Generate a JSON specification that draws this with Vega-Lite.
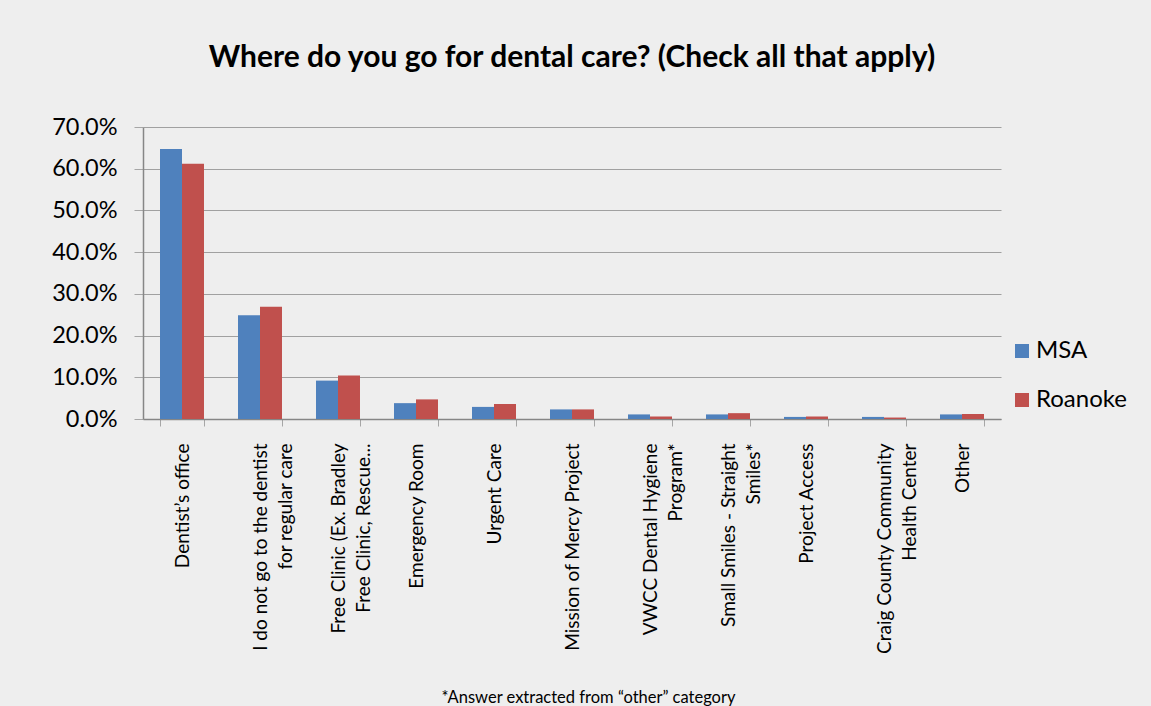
{
  "$schema": "https://vega.github.io/schema/vega-lite/v6.json",
  "width": 858,
  "height": 292,
  "autosize": {"type": "none"},
  "padding": {"left": 143, "top": 127, "right": 150, "bottom": 287},
  "background": "#eeeeee",
  "title": {
    "text": "Where do you go for dental care? (Check all that apply)",
    "font": "Lato",
    "fontSize": 30,
    "fontWeight": "bold",
    "color": "#000000",
    "anchor": "middle",
    "baseline": "alphabetic",
    "offset": 18
  },
  "data": {
    "values": [
      {"place": "Dentist’s office", "group": "MSA", "share": 0.647},
      {"place": "Dentist’s office", "group": "Roanoke", "share": 0.612},
      {"place": "I do not go to the dentist|for regular care", "group": "MSA", "share": 0.249},
      {"place": "I do not go to the dentist|for regular care", "group": "Roanoke", "share": 0.269},
      {"place": "Free Clinic (Ex. Bradley|Free Clinic, Rescue...", "group": "MSA", "share": 0.092},
      {"place": "Free Clinic (Ex. Bradley|Free Clinic, Rescue...", "group": "Roanoke", "share": 0.104},
      {"place": "Emergency Room", "group": "MSA", "share": 0.038},
      {"place": "Emergency Room", "group": "Roanoke", "share": 0.047},
      {"place": "Urgent Care", "group": "MSA", "share": 0.029},
      {"place": "Urgent Care", "group": "Roanoke", "share": 0.036},
      {"place": "Mission of Mercy Project", "group": "MSA", "share": 0.023},
      {"place": "Mission of Mercy Project", "group": "Roanoke", "share": 0.023},
      {"place": "VWCC Dental Hygiene|Program*", "group": "MSA", "share": 0.011},
      {"place": "VWCC Dental Hygiene|Program*", "group": "Roanoke", "share": 0.006},
      {"place": "Small Smiles - Straight|Smiles*", "group": "MSA", "share": 0.011},
      {"place": "Small Smiles - Straight|Smiles*", "group": "Roanoke", "share": 0.014},
      {"place": "Project Access", "group": "MSA", "share": 0.005},
      {"place": "Project Access", "group": "Roanoke", "share": 0.006},
      {"place": "Craig County Community|Health Center", "group": "MSA", "share": 0.005},
      {"place": "Craig County Community|Health Center", "group": "Roanoke", "share": 0.0035},
      {"place": "Other", "group": "MSA", "share": 0.011},
      {"place": "Other", "group": "Roanoke", "share": 0.012}
    ]
  },
  "mark": {"type": "bar"},
  "encoding": {
    "x": {
      "field": "place",
      "type": "nominal",
      "sort": null,
      "scale": {"paddingInner": 0.436, "paddingOuter": 0.218},
      "axis": {
        "title": "*Answer extracted from “other” category",
        "titleFont": "Lato",
        "titleFontSize": 16.5,
        "titleFontWeight": "normal",
        "titleColor": "#000000",
        "titleBaseline": "middle",
        "titleY": 278,
        "titleX": 445,
        "labelExpr": "split(datum.label, '|')",
        "labelAngle": -90,
        "labelFont": "Lato",
        "labelFontSize": 19,
        "labelColor": "#000000",
        "labelPadding": 17,
        "labelLineHeight": 25,
        "labelLimit": 300,
        "tickBand": "extent",
        "tickSize": 7,
        "tickColor": "#a6a6a6",
        "domainColor": "#868686",
        "domainWidth": 1.5,
        "grid": false
      }
    },
    "xOffset": {"field": "group", "type": "nominal", "scale": {"paddingInner": 0, "paddingOuter": 0}},
    "y": {
      "field": "share",
      "type": "quantitative",
      "scale": {"domain": [0, 0.7], "nice": false},
      "axis": {
        "title": null,
        "values": [0, 0.1, 0.2, 0.3, 0.4, 0.5, 0.6, 0.7],
        "format": ".1%",
        "labelFont": "Lato",
        "labelFontSize": 23.5,
        "labelColor": "#000000",
        "labelPadding": 17,
        "tickSize": 9,
        "tickColor": "#a6a6a6",
        "domainColor": "#868686",
        "domainWidth": 1.5,
        "gridColor": "#a0a0a0",
        "gridWidth": 1.2
      }
    },
    "color": {
      "field": "group",
      "type": "nominal",
      "scale": {"domain": ["MSA", "Roanoke"], "range": ["#4f81bd", "#c0504d"]},
      "legend": {
        "title": null,
        "orient": "none",
        "legendX": 867,
        "legendY": 212,
        "symbolType": "square",
        "symbolSize": 196,
        "symbolStrokeWidth": 0,
        "labelFont": "Lato",
        "labelFontSize": 24,
        "labelColor": "#000000",
        "labelOffset": 2,
        "rowPadding": 25
      }
    }
  },
  "config": {
    "view": {"stroke": null},
    "axis": {"labelOverlap": false}
  }
}
